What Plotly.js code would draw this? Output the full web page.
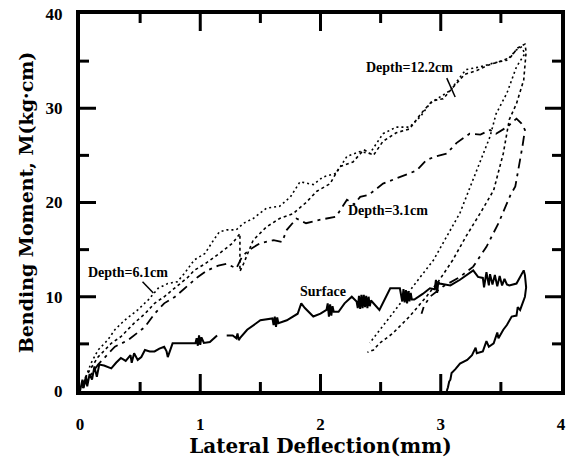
<!DOCTYPE html>
<html>
<head>
<meta charset="utf-8">
<script src="https://cdn.plot.ly/plotly-3.0.1.min.js"></script>
<style>
  html, body { margin: 0; padding: 0; background: #ffffff; }
  #chart { width: 569px; height: 461px; }
</style>
</head>
<body>
<div id="chart"></div>
<script>
// Lateral deflection (mm) vs bending moment (kg-cm) for pile at several depths.

// Surface: loading then unloading (noisy record)
const surfaceX = [0, 0.02, 0.03, 0.05, 0.06, 0.08, 0.10, 0.12, 0.14, 0.16, 0.20, 0.26, 0.30, 0.34, 0.38, 0.42, 0.43, 0.45, 0.48, 0.51, 0.54, 0.58, 0.62, 0.66, 0.70, 0.72, 0.73, 0.75, 0.77, 0.85, 0.92, 0.96, 0.97, 0.98, 0.99, 1.00, 1.01, 1.03, 1.08, 1.14, null, 1.22, 1.27, 1.30, 1.31, 1.32, 1.33, 1.39, 1.50, 1.60, 1.61, 1.62, 1.63, 1.64, 1.65, 1.72, 1.81, 1.84, 1.87, 1.94, 2.00, 2.05, 2.06, 2.07, 2.08, 2.09, 2.10, 2.11, 2.15, 2.20, 2.26, 2.30, 2.31, 2.32, 2.33, 2.34, 2.35, 2.36, 2.37, 2.38, 2.39, 2.40, 2.41, 2.42, 2.44, 2.49, 2.58, 2.66, 2.68, 2.69, 2.70, 2.71, 2.72, 2.73, 2.74, 2.75, 2.76, 2.78, 2.85, 2.91, 2.95, 2.96, 2.97, 2.98, 2.99, 3.08, 3.16, 3.27, 3.31, 3.35, 3.36, 3.38, 3.40, 3.41, 3.43, 3.45, 3.47, 3.49, 3.51, 3.53, 3.55, 3.57, 3.63, 3.69, 3.70, 3.71, 3.70, 3.66, 3.64, 3.63, 3.59, 3.55, 3.52, 3.48, 3.47, 3.44, 3.40, 3.38, 3.35, 3.30, 3.29, 3.26, 3.22, 3.16, 3.12, 3.09, 3.08, 3.07, 3.06, 3.05];
const surfaceY = [0, 1.2, 0.3, 1.6, 0.5, 1.8, 1.2, 2.6, 1.5, 2.8, 2.7, 2.4, 3.0, 3.5, 3.2, 3.8, 3.0, 4.0, 3.3, 3.6, 4.35, 4.2, 4.2, 4.5, 4.7, 4.2, 3.6, 4.35, 5.06, 5.06, 5.06, 5.06, 5.6, 4.8, 5.9, 4.9, 5.7, 5.1, 5.2, 5.9, null, 5.9, 5.9, 5.6, 6.1, 5.4, 5.6, 6.5, 7.5, 7.7, 7.0, 7.9, 6.8, 7.8, 7.2, 7.5, 8.2, 9.3, 8.8, 7.9, 8.2, 8.6, 9.3, 7.9, 9.2, 8.0, 9.0, 8.4, 8.4, 9.3, 10.0, 9.5, 8.8, 10.1, 8.7, 10.2, 8.8, 10.2, 8.9, 10.1, 8.8, 10.0, 9.0, 9.6, 9.3, 8.6, 10.9, 10.9, 9.5, 10.8, 9.4, 10.7, 9.3, 10.6, 9.5, 10.4, 9.7, 9.7, 10.3, 10.9, 10.8, 11.8, 10.4, 11.6, 11.4, 11.2, 11.8, 12.8, 12.1, 12.0, 11.0, 12.6, 11.2, 12.4, 11.3, 12.3, 11.1, 12.2, 11.2, 11.9, 11.3, 11.2, 11.4, 12.8, 12.3, 11.0, 10.0, 8.6, 8.9, 8.0, 7.9, 7.0, 6.5, 5.6, 6.2, 5.06, 4.7, 5.3, 4.2, 4.0, 4.6, 3.8, 3.3, 2.9, 2.3, 1.9, 1.2, 1.0, 0.4, 0];

// Depth = 3.1 cm: loading then unloading
const d31X = [0.02, 0.05, 0.15, 0.29, 0.40, 0.54, 0.62, 0.70, 0.79, 0.87, 0.98, 1.06, 1.15, 1.22, 1.30, 1.35, 1.41, 1.50, 1.61, 1.68, 1.72, 1.80, 1.88, 1.97, 2.05, 2.13, 2.22, 2.28, 2.33, 2.40, 2.52, 2.66, 2.80, 2.88, 2.96, 3.05, 3.13, 3.24, 3.33, 3.41, 3.46, 3.55, 3.63, 3.67, 3.70, 3.68, 3.66, 3.62, 3.58, 3.55, 3.48, 3.38, 3.27, 3.16, 3.02, 2.91, 2.86, 2.84];
const d31Y = [0.3, 1.0, 2.8, 4.7, 5.4, 6.8, 8.2, 9.3, 10.0, 10.9, 12.1, 12.8, 13.3, 13.5, 13.0, 14.3, 15.0, 15.7, 16.0, 15.8, 17.1, 18.3, 17.8, 18.1, 18.3, 18.5, 20.3, 19.8, 20.6, 20.8, 22.0, 22.7, 23.4, 24.5, 24.9, 25.2, 26.3, 27.3, 27.2, 27.7, 27.3, 28.0, 28.9, 28.4, 27.7, 26.0, 24.5, 21.7, 20.8, 19.9, 17.8, 15.3, 13.2, 12.1, 11.1, 10.0, 9.0, 8.2];

// Depth = 6.1 cm: loading then unloading
const d61X = [0.02, 0.05, 0.09, 0.15, 0.23, 0.29, 0.37, 0.48, 0.57, 0.65, 0.73, 0.81, 0.87, 0.95, 1.04, 1.11, 1.16, 1.22, 1.30, 1.36, 1.44, 1.55, 1.66, 1.75, 1.83, 1.94, 2.02, 2.13, 2.22, 2.33, 2.41, 2.52, 2.63, 2.74, 2.83, 2.91, 2.99, 3.08, 3.16, 3.21, 3.33, 3.44, 3.55, 3.63, 3.67, 3.70, 3.66, 3.63, 3.55, 3.46, 3.41, 3.33, 3.24, 3.16, 3.05, 2.94, 2.83, 2.69, 2.58, 2.47, 2.41];
const d61Y = [0.5, 1.5, 2.9, 4.35, 5.4, 6.5, 7.5, 8.6, 9.7, 10.9, 11.4, 11.6, 12.5, 13.9, 14.6, 16.0, 16.9, 17.1, 17.1, 17.8, 18.3, 19.4, 19.6, 20.6, 22.2, 21.9, 22.7, 23.1, 24.9, 25.4, 25.2, 27.3, 28.0, 28.0, 29.1, 30.5, 31.2, 31.9, 33.3, 34.1, 34.4, 34.8, 35.1, 36.2, 36.5, 35.8, 35.0, 34.4, 31.6, 29.4, 27.0, 24.5, 21.5, 18.9, 16.4, 13.9, 12.1, 9.7, 7.9, 6.1, 5.1];

// Depth = 12.2 cm: loading then unloading
const d122X = [0.02, 0.08, 0.15, 0.26, 0.34, 0.45, 0.54, 0.62, 0.70, 0.81, 0.90, 0.95, 1.04, 1.16, 1.27, 1.33, 1.33, 1.36, 1.44, 1.55, 1.66, 1.77, 1.88, 1.97, 2.08, 2.16, 2.27, 2.36, 2.44, 2.52, 2.63, 2.74, 2.84, 2.93, 3.02, 3.10, 3.20, 3.30, 3.40, 3.50, 3.58, 3.64, 3.70, 3.71, 3.69, 3.63, 3.57, 3.52, 3.46, 3.44, 3.33, 3.21, 3.10, 2.99, 2.88, 2.74, 2.60, 2.49, 2.44, 2.39];
const d122Y = [0.8, 2.2, 3.6, 5.06, 5.76, 7.2, 8.2, 9.3, 10.0, 11.1, 12.1, 12.8, 13.5, 14.6, 15.7, 16.7, 12.7, 13.5, 16.0, 17.4, 18.3, 18.8, 20.0, 21.2, 22.0, 23.8, 24.3, 25.6, 25.0, 26.5, 27.4, 27.8, 29.5, 30.8, 31.0, 32.2, 33.6, 34.0, 34.6, 35.0, 35.4, 36.4, 36.8, 36.0, 33.0, 30.5, 28.8, 25.2, 22.4, 21.3, 18.9, 16.4, 13.9, 11.8, 10.0, 7.9, 6.1, 5.06, 4.35, 4.1];

// Axis ranges and interior tick positions (major / minor)
const xRange = [0, 4];
const yRange = [0, 40];
const xMajorTicks = [1, 2, 3];
const xMinorTicks = [0.5, 1.5, 2.5, 3.5];
const yMajorTicks = [10, 20, 30];
const yMinorTicks = [5, 15, 25, 35];

const W = 569, H = 461;
const margin = { l: 80, r: 8, t: 14, b: 70 };

const serifBold = 'DejaVu Serif, serif';
const labelFont = { family: 'Liberation Serif, serif', size: 14, color: '#000', weight: 'bold' };
const tickFont = { family: 'Liberation Serif, serif', size: 17, color: '#000', weight: 'bold' };

// Inward tick marks on all four frame sides, built as one segmented line.
// Lengths are given in pixels and converted to axis units.
const xUnitsPerPx = (xRange[1] - xRange[0]) / (W - margin.l - margin.r);
const yUnitsPerPx = (yRange[1] - yRange[0]) / (H - margin.t - margin.b);
const tickX = [], tickY = [];
function seg(x0, y0, x1, y1) { tickX.push(x0, x1, null); tickY.push(y0, y1, null); }
function xTicks(vals, lenPx) {
  const d = lenPx * yUnitsPerPx;
  vals.forEach(v => { seg(v, yRange[0], v, yRange[0] + d); seg(v, yRange[1], v, yRange[1] - d); });
}
function yTicks(vals, lenPx) {
  const d = lenPx * xUnitsPerPx;
  vals.forEach(v => { seg(xRange[0], v, xRange[0] + d, v); seg(xRange[1], v, xRange[1] - d, v); });
}
xTicks(xMajorTicks, 17);
xTicks(xMinorTicks, 9);
yTicks(yMajorTicks, 16);
yTicks(yMinorTicks, 9);

const traces = [
  { x: surfaceX, y: surfaceY, mode: 'lines', name: 'Surface',
    line: { color: '#000', width: 2 }, connectgaps: false },
  { x: d31X, y: d31Y, mode: 'lines', name: 'Depth=3.1cm',
    line: { color: '#000', width: 1.8, dash: '10px,5px,3px,5px' } },
  { x: d61X, y: d61Y, mode: 'lines', name: 'Depth=6.1cm',
    line: { color: '#000', width: 1.6, dash: '2px,3px' } },
  { x: d122X, y: d122Y, mode: 'lines', name: 'Depth=12.2cm',
    line: { color: '#000', width: 1.6, dash: '3px,3px' } },
  { x: tickX, y: tickY, mode: 'lines', name: 'ticks', showlegend: false, hoverinfo: 'skip',
    connectgaps: false, line: { color: '#000', width: 3 } }
];

const layout = {
  width: W, height: H,
  margin: margin,
  paper_bgcolor: '#fff', plot_bgcolor: '#fff',
  showlegend: false,
  xaxis: {
    range: xRange, tick0: 0, dtick: 1, ticks: '',
    showline: true, linecolor: '#000', linewidth: 4, mirror: true,
    showgrid: false, zeroline: false, tickfont: tickFont,
    ticklabelstandoff: 15,
    title: { text: 'Lateral Deflection(mm)', standoff: 2,
      font: { family: serifBold, size: 20, color: '#000', weight: 'bold' } }
  },
  yaxis: {
    range: yRange, tick0: 0, dtick: 10, ticks: '',
    showline: true, linecolor: '#000', linewidth: 4, mirror: true,
    showgrid: false, zeroline: false, tickfont: tickFont,
    ticklabelstandoff: 10,
    title: { text: 'Bending Moment, M(kg·cm)', standoff: 8,
      font: { family: serifBold, size: 19, color: '#000', weight: 'bold' } }
  },
  annotations: [
    { x: 2.74, y: 34.3, text: 'Depth=12.2cm', showarrow: false, font: labelFont },
    { x: 2.56, y: 19.2, text: 'Depth=3.1cm', showarrow: false, font: labelFont },
    { x: 0.40, y: 12.6, text: 'Depth=6.1cm', showarrow: false, font: labelFont },
    { x: 2.02, y: 10.6, text: 'Surface', showarrow: false, font: labelFont }
  ],
  shapes: [
    { type: 'line', x0: 3.05, y0: 33.2, x1: 3.12, y1: 31.2, line: { color: '#000', width: 1.5 } },
    { type: 'line', x0: 0.52, y0: 11.6, x1: 0.61, y1: 10.4, line: { color: '#000', width: 1.5 } }
  ]
};

Plotly.newPlot('chart', traces, layout, { staticPlot: true, displayModeBar: false });
</script>
</body>
</html>
